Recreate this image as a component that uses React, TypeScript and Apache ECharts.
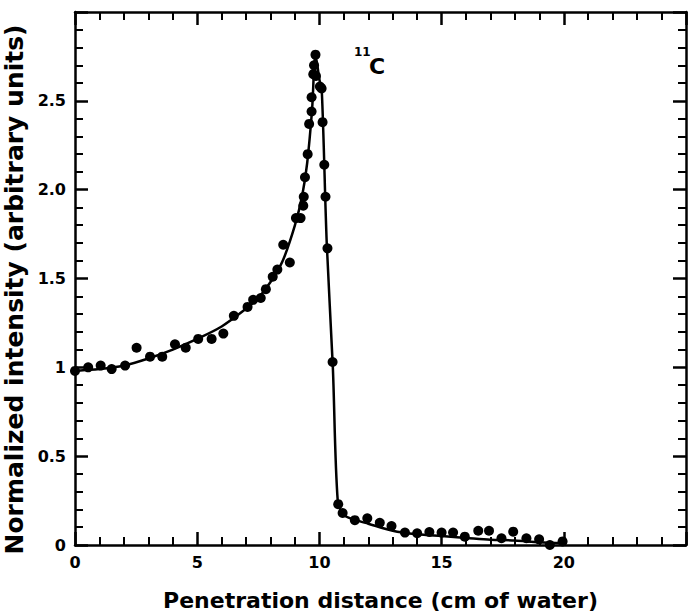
import React, { useEffect, useRef } from "react";
import * as echarts from "echarts";

const pointX = [0, 0.54, 1.05, 1.5, 2.05, 2.52, 3.07, 3.57, 4.09, 4.53, 5.04, 5.59, 6.07, 6.5, 7.06, 7.29, 7.6, 7.81, 8.09, 8.28, 8.52, 8.79, 9.04, 9.23, 9.34, 9.36, 9.41, 9.52, 9.58, 9.68, 9.68, 9.75, 9.78, 9.84, 9.86, 10.02, 10.09, 10.13, 10.2, 10.25, 10.33, 10.54, 10.77, 10.95, 11.45, 11.96, 12.47, 12.95, 13.5, 14.0, 14.5, 15.0, 15.47, 15.95, 16.5, 16.94, 17.45, 17.93, 18.47, 18.99, 19.43, 19.95];
const pointY = [0.98, 1.0, 1.01, 0.99, 1.01, 1.11, 1.06, 1.06, 1.13, 1.11, 1.16, 1.16, 1.19, 1.29, 1.34, 1.38, 1.39, 1.44, 1.51, 1.55, 1.69, 1.59, 1.84, 1.84, 1.91, 1.96, 2.07, 2.2, 2.37, 2.44, 2.52, 2.65, 2.7, 2.76, 2.64, 2.58, 2.57, 2.38, 2.14, 1.96, 1.67, 1.03, 0.23, 0.18, 0.14, 0.15, 0.125, 0.107, 0.07, 0.066, 0.073, 0.07, 0.07, 0.047, 0.08, 0.08, 0.038, 0.075, 0.038, 0.032, 0.0, 0.02];

const curveX = [0, 1, 2, 3, 4, 5, 6, 7, 7.5, 8, 8.5, 9, 9.3, 9.5, 9.7, 9.84, 10.0, 10.1, 10.3, 10.55, 10.75, 11, 11.5, 12, 13, 14, 15, 16, 17, 18, 19, 20];
const curveY = [0.98, 0.99, 1.01, 1.05, 1.1, 1.16, 1.23, 1.33, 1.39, 1.48, 1.6, 1.8, 1.97, 2.15, 2.45, 2.76, 2.62, 2.55, 1.7, 1.0, 0.25, 0.17, 0.14, 0.12, 0.08, 0.06, 0.05, 0.04, 0.03, 0.025, 0.015, 0.01];

const xTickLabels: Record<number, string> = { 0: "0", 5: "5", 10: "10", 15: "15", 20: "20" };
const yTickLabels: Record<string, string> = { "0": "0", "0.5": "0.5", "1": "1", "1.5": "1.5", "2": "2.0", "2.5": "2.5" };

const FONT = "'DejaVu Sans', sans-serif";

export default function App() {
  const ref = useRef<HTMLDivElement>(null);
  useEffect(() => {
    if (!ref.current) return;
    const chart = echarts.init(ref.current, null, { renderer: "svg" });
    const lineStyle = { color: "#000", width: 2.5 };
    const axisLine = { show: true, onZero: false, lineStyle };
    const tick = { show: true, inside: true, length: 13, lineStyle: { color: "#000", width: 2.5 } };
    const minor = { show: true, splitNumber: 5, length: 8, lineStyle: { color: "#000", width: 2 } };
    chart.setOption({
      animation: false,
      backgroundColor: "#fff",
      grid: { left: 75, right: 6, top: 12, bottom: 71, containLabel: false, outerBoundsMode: "none" },
      xAxis: [
        {
          type: "value", min: 0, max: 25, interval: 5, position: "bottom",
          axisLine, axisTick: tick, minorTick: minor,
          splitLine: { show: false }, minorSplitLine: { show: false },
          axisLabel: {
            color: "#000", fontSize: 16, fontFamily: FONT, fontWeight: "bold", margin: 9,
            formatter: (v: number) => xTickLabels[v] ?? "",
          },
          name: "Penetration distance (cm of water)", nameLocation: "middle", nameGap: 44,
          nameTextStyle: { color: "#000", fontSize: 22, fontFamily: FONT, fontWeight: "bold" },
        },
        {
          type: "value", min: 0, max: 25, interval: 5, position: "top",
          axisLine, axisTick: tick, minorTick: minor,
          splitLine: { show: false }, axisLabel: { show: false },
        },
      ],
      yAxis: [
        {
          type: "value", min: 0, max: 3, interval: 0.5, position: "left",
          axisLine, axisTick: tick, minorTick: minor,
          splitLine: { show: false }, minorSplitLine: { show: false },
          axisLabel: {
            color: "#000", fontSize: 16, fontFamily: FONT, fontWeight: "bold", margin: 9,
            formatter: (v: number) => yTickLabels[String(v)] ?? "",
          },
          name: "Normalized intensity (arbitrary units)", nameLocation: "middle", nameGap: 46,
          nameTextStyle: { color: "#000", fontSize: 25, fontFamily: FONT, fontWeight: "bold", padding: [0, 22, 0, 0] },
        },
        {
          type: "value", min: 0, max: 3, interval: 0.5, position: "right",
          axisLine, axisTick: tick, minorTick: minor,
          splitLine: { show: false }, axisLabel: { show: false },
        },
      ],
      graphic: [
        { type: "text", left: 354, top: 46, style: { text: "11", fill: "#000", fontSize: 12, fontFamily: FONT, fontWeight: "bold" } },
        { type: "text", left: 369, top: 55, style: { text: "C", fill: "#000", fontSize: 22, fontFamily: FONT, fontWeight: "bold" } },
      ],
      series: [
        {
          type: "line", xAxisIndex: 0, yAxisIndex: 0,
          data: curveX.map((x, i) => [x, curveY[i]]),
          showSymbol: false, symbol: "none", smooth: 0.3,
          lineStyle: { color: "#000", width: 2.5 },
        },
        {
          type: "scatter", xAxisIndex: 0, yAxisIndex: 0,
          data: pointX.map((x, i) => [x, pointY[i]]),
          symbol: "circle", symbolSize: 10,
          itemStyle: { color: "#000", opacity: 1 },
        },
      ],
    });
    return () => chart.dispose();
  }, []);
  return <div ref={ref} style={{ width: 692, height: 616, position: "absolute", left: 0, top: 0 }} />;
}
